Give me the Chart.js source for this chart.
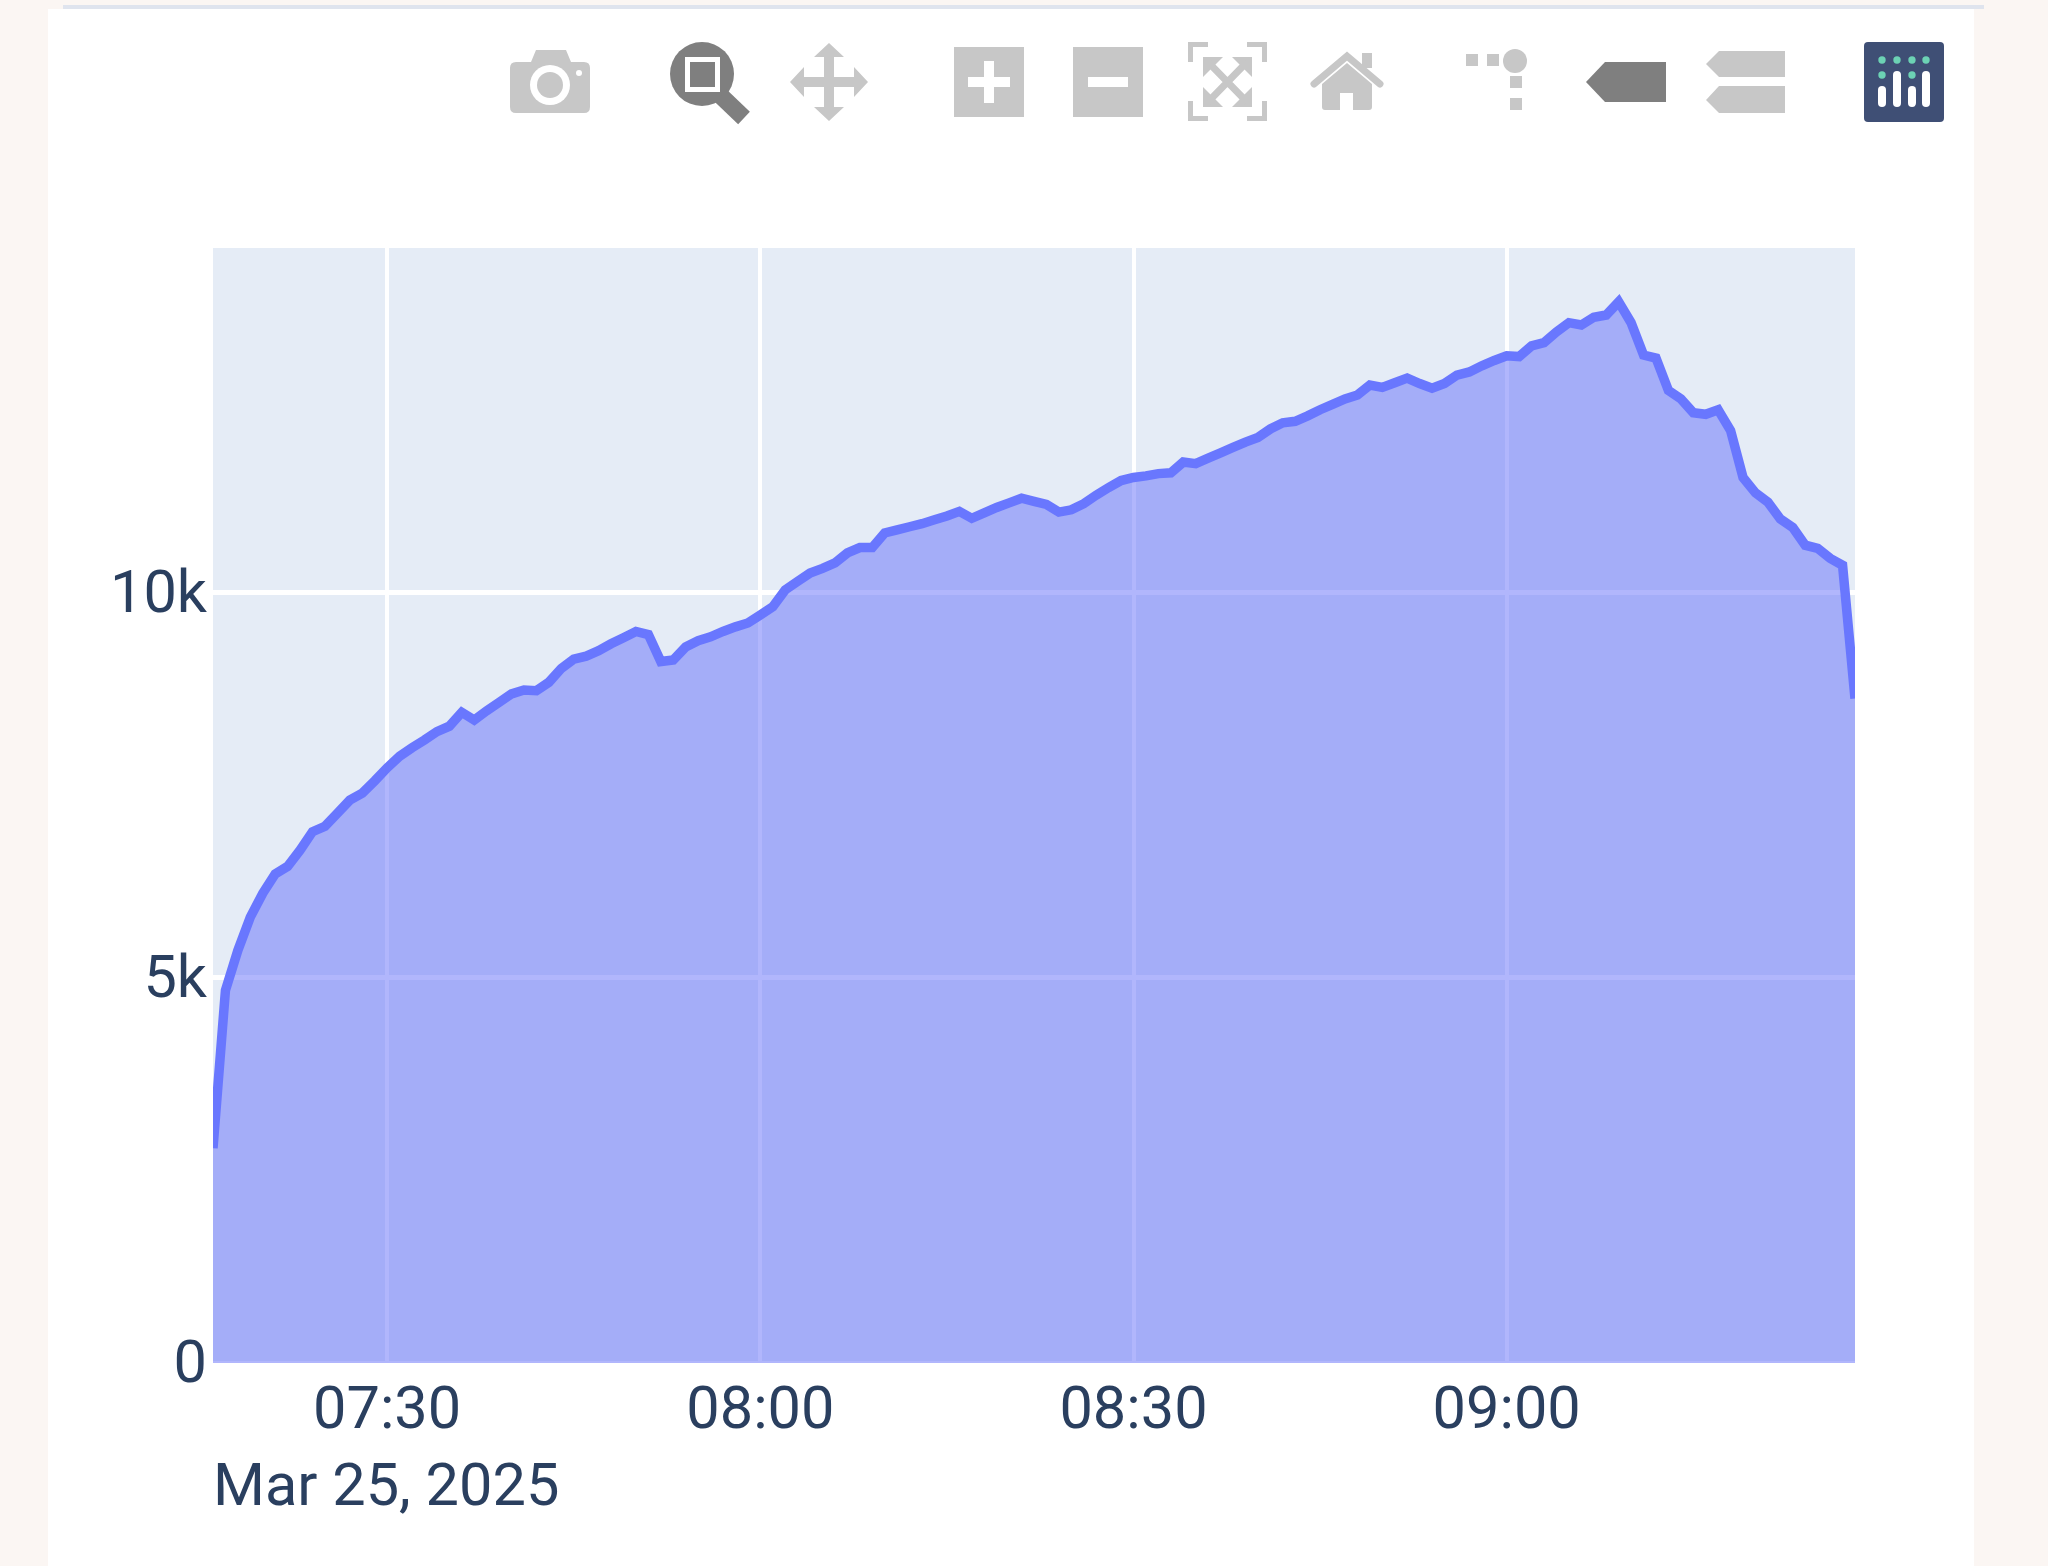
<!DOCTYPE html>
<html>
<head>
<meta charset="utf-8">
<title>Chart</title>
<script src="https://cdn.jsdelivr.net/npm/chart.js@4"></script>
<style>
    html, body { margin: 0; padding: 0; width: 2048px; height: 1566px; overflow: hidden; background: #fbf6f3; }
    #card { position: absolute; left: 48px; top: 9px; width: 1926px; height: 1557px; background: #ffffff; }
    #topline { position: absolute; left: 63px; top: 5px; width: 1921px; height: 4px; background: #dfe4ee; }
    #chart { position: absolute; left: 0; top: 0; }
    #toolbar { position: absolute; left: 0; top: 0; }
</style>
</head>
<body>
<div id="card"></div>
<div id="topline"></div>
<canvas id="chart" width="2048" height="1566"></canvas>

<!-- modebar icons -->
<svg id="toolbar" width="2048" height="130" viewBox="0 0 2048 130">
    <g fill="#c7c7c7">
        <!-- camera -->
        <path d="M516 62H531L536 50H566L571 62H584Q590 62 590 68V107Q590 113 584 113H516Q510 113 510 107V68Q510 62 516 62Z"/>
        <circle cx="550" cy="85" r="20" fill="#fff"/>
        <circle cx="550" cy="85" r="13"/>
        <circle cx="579" cy="73" r="3" fill="#fff"/>
        <!-- pan -->
        <path d="M829 43L844 57H834V77H854V67L868 82L854 97V87H834V107H844L829 121L814 107H824V87H804V97L790 82L804 67V77H824V57H814Z"/>
        <!-- zoom in -->
        <path fill-rule="evenodd" d="M954 47H1024V117H954ZM968 77V87H984V103H994V87H1010V77H994V61H984V77Z"/>
        <!-- zoom out -->
        <path fill-rule="evenodd" d="M1073 47H1143V117H1073ZM1088 77V87H1128V77Z"/>
        <!-- autoscale -->
        <path d="M1188 42H1208V47H1193V62H1188ZM1267 42H1247V47H1262V62H1267ZM1188 121H1208V116H1193V101H1188ZM1267 121H1247V116H1262V101H1267Z"/>
        <path d="M1203 57H1223L1203 77ZM1252 57H1232L1252 77ZM1203 107H1223L1203 87ZM1252 107H1232L1252 87Z"/>
        <path d="M1208 62L1247 102M1247 62L1208 102" fill="none" stroke="#c7c7c7" stroke-width="7"/>
        <!-- home -->
        <path d="M1347 63L1372 84V107Q1372 110 1369 110H1353V93H1340V110H1325Q1322 110 1322 107V84Z"/>
        <path d="M1362 53H1372V68H1362Z"/>
        <path d="M1314 84L1347 56L1380 84" fill="none" stroke="#c7c7c7" stroke-width="7" stroke-linecap="round"/>
        <!-- spike lines -->
        <rect x="1466" y="54" width="12" height="12"/>
        <rect x="1487" y="54" width="12" height="12"/>
        <circle cx="1515" cy="61" r="12"/>
        <rect x="1510" y="76" width="12" height="12"/>
        <rect x="1510" y="98" width="12" height="12"/>
        <!-- compare hover -->
        <path d="M1706 64L1719 51H1785V77H1719Z"/>
        <path d="M1706 100L1719 86H1785V113H1719Z"/>
    </g>
    <g fill="#7f7f7f">
        <!-- zoom box -->
        <circle cx="702" cy="74" r="32"/>
        <line x1="721" y1="96" x2="744" y2="118" stroke="#7f7f7f" stroke-width="17"/>
        <rect x="685" y="57" width="35" height="35" fill="#fff"/>
        <rect x="690" y="62" width="25" height="25"/>
        <!-- closest hover -->
        <path d="M1586 82L1605 62H1666V102H1605Z"/>
    </g>
    <!-- logo -->
    <rect x="1864" y="42" width="80" height="80" rx="4" fill="#3f4f75"/>
    <g fill="#ffffff">
        <rect x="1878" y="86" width="8" height="21" rx="4"/>
        <rect x="1893" y="71" width="8" height="36" rx="4"/>
        <rect x="1908" y="86" width="8" height="21" rx="4"/>
        <rect x="1922" y="71" width="8" height="36" rx="4"/>
    </g>
    <g fill="#6cd2b4">
        <circle cx="1882" cy="60" r="3.7"/>
        <circle cx="1897" cy="60" r="3.7"/>
        <circle cx="1912" cy="60" r="3.7"/>
        <circle cx="1926" cy="60" r="3.7"/>
        <circle cx="1882" cy="75" r="3.7"/>
        <circle cx="1912" cy="75" r="3.7"/>
    </g>
</svg>

<script>
const times = [
    "07:16", "07:17", "07:18", "07:19", "07:20", "07:21", "07:22", "07:23", "07:24", "07:25", "07:26", "07:27",
    "07:28", "07:29", "07:30", "07:31", "07:32", "07:33", "07:34", "07:35", "07:36", "07:37", "07:38", "07:39",
    "07:40", "07:41", "07:42", "07:43", "07:44", "07:45", "07:46", "07:47", "07:48", "07:49", "07:50", "07:51",
    "07:52", "07:53", "07:54", "07:55", "07:56", "07:57", "07:58", "07:59", "08:00", "08:01", "08:02", "08:03",
    "08:04", "08:05", "08:06", "08:07", "08:08", "08:09", "08:10", "08:11", "08:12", "08:13", "08:14", "08:15",
    "08:16", "08:17", "08:18", "08:19", "08:20", "08:21", "08:22", "08:23", "08:24", "08:25", "08:26", "08:27",
    "08:28", "08:29", "08:30", "08:31", "08:32", "08:33", "08:34", "08:35", "08:36", "08:37", "08:38", "08:39",
    "08:40", "08:41", "08:42", "08:43", "08:44", "08:45", "08:46", "08:47", "08:48", "08:49", "08:50", "08:51",
    "08:52", "08:53", "08:54", "08:55", "08:56", "08:57", "08:58", "08:59", "09:00", "09:01", "09:02", "09:03",
    "09:04", "09:05", "09:06", "09:07", "09:08", "09:09", "09:10", "09:11", "09:12", "09:13", "09:14", "09:15",
    "09:16", "09:17", "09:18", "09:19", "09:20", "09:21", "09:22", "09:23", "09:24", "09:25", "09:26", "09:27",
    "09:28"
];

const values = [
    2790, 4840, 5360, 5790, 6100, 6350, 6450, 6660, 6900, 6970, 7140, 7310,
    7400, 7560, 7730, 7880, 7990, 8090, 8200, 8270, 8450, 8350, 8470, 8580,
    8690, 8740, 8730, 8840, 9020, 9140, 9180, 9250, 9340, 9420, 9500, 9460,
    9110, 9130, 9300, 9380, 9430, 9500, 9560, 9610, 9715, 9820, 10040, 10150,
    10260, 10320, 10390, 10520, 10590, 10590, 10780, 10820, 10860, 10900, 10950, 11000,
    11060, 10970, 11040, 11110, 11170, 11230, 11190, 11150, 11050, 11080, 11160, 11270,
    11370, 11460, 11500, 11520, 11550, 11560, 11700, 11680, 11750, 11820, 11890, 11960,
    12020, 12130, 12210, 12230, 12300, 12380, 12450, 12520, 12570, 12700, 12670, 12730,
    12790, 12720, 12660, 12720, 12830, 12870, 12950, 13020, 13080, 13070, 13210, 13250,
    13390, 13510, 13480, 13580, 13610, 13780, 13510, 13090, 13050, 12630, 12520, 12340,
    12320, 12380, 12110, 11500, 11300, 11180, 10960, 10850, 10620, 10580, 10450, 10360,
    8630
];

const xTickLabels = ["07:30", "08:00", "08:30", "09:00"];
const yTickValues = [0, 5000, 10000];
const yTickLabels = ["0", "5k", "10k"];
const dateLabel = "Mar 25, 2025";
const yMax = 14480;

const textColor = "#2a3f5f";
const tickFont = { family: "Roboto", size: 59.5 };

const plotBackground = {
    id: "plotBackground",
    beforeDraw(chart) {
        const a = chart.chartArea;
        chart.ctx.fillStyle = "#e5ecf6";
        chart.ctx.fillRect(a.left, a.top, a.width, a.height);
    }
};

const chart = new Chart(document.getElementById("chart"), {
    type: "line",
    data: {
        labels: times,
        datasets: [{
            data: values,
            borderColor: "#6977fe",
            backgroundColor: "rgba(99, 110, 250, 0.5)",
            borderWidth: 9.5,
            borderJoinStyle: "miter",
            borderCapStyle: "butt",
            pointRadius: 0,
            tension: 0,
            fill: "origin",
            clip: 0
        }]
    },
    options: {
        responsive: false,
        animation: false,
        layout: { padding: { left: 0, top: 248, right: 193, bottom: 0 } },
        scales: {
            x: {
                type: "category",
                offset: false,
                afterBuildTicks: (axis) => {
                    axis.ticks = axis.ticks.filter(t => xTickLabels.includes(axis.getLabelForValue(t.value)));
                },
                afterFit: (axis) => { axis.height = 203; },
                grid: { color: "#ffffff", lineWidth: 4, drawTicks: false },
                border: { display: false },
                ticks: {
                    autoSkip: false,
                    maxRotation: 0,
                    minRotation: 0,
                    padding: 14,
                    color: textColor,
                    font: tickFont
                },
                title: {
                    display: true,
                    text: dateLabel,
                    align: "start",
                    color: textColor,
                    font: tickFont,
                    padding: { top: 8, bottom: 40 }
                }
            },
            y: {
                min: 0,
                max: yMax,
                afterBuildTicks: (axis) => {
                    axis.ticks = yTickValues.map(v => ({ value: v }));
                },
                afterFit: (axis) => { axis.width = 213; },
                grid: { color: "#ffffff", lineWidth: 5, drawTicks: false },
                border: { display: false },
                ticks: {
                    padding: 6,
                    labelOffset: 4,
                    color: textColor,
                    font: tickFont,
                    callback: (v) => yTickLabels[yTickValues.indexOf(v)]
                }
            }
        },
        plugins: {
            legend: { display: false },
            tooltip: { enabled: false }
        }
    },
    plugins: [plotBackground]
});
</script>
</body>
</html>
